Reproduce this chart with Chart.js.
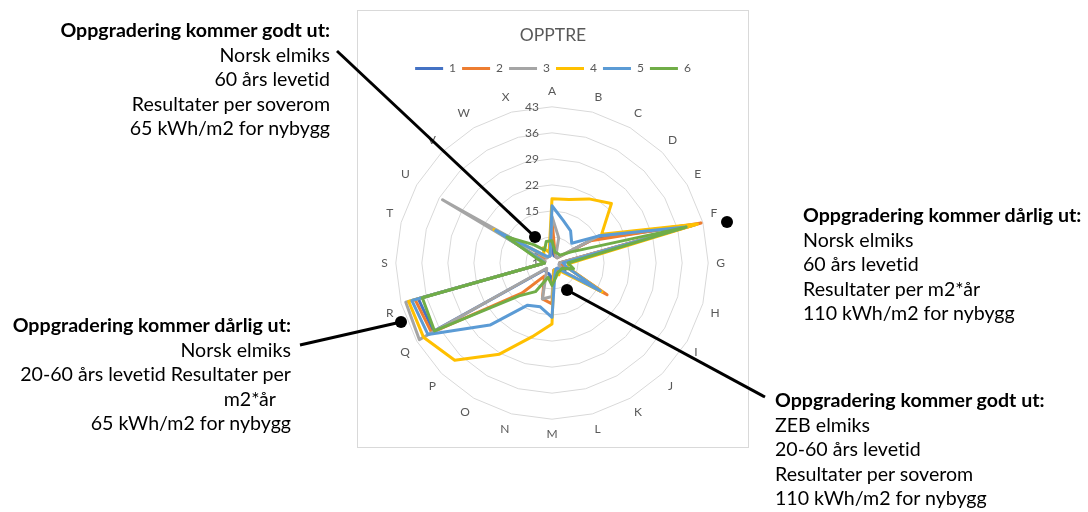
<!DOCTYPE html>
<html>
<head>
<meta charset="utf-8">
<script src="https://cdn.jsdelivr.net/npm/chart.js@4.4.1/dist/chart.umd.min.js"></script>
<style>
  html, body { margin: 0; padding: 0; background: #fff; width: 1088px; height: 512px; overflow: hidden;
    font-family: Lato, "Open Sans", sans-serif; }
  #box { position: absolute; left: 357px; top: 10px; width: 390px; height: 436px; border: 1px solid #D9D9D9; }
  #box canvas { display: block; }
  .note { position: absolute; font-size: 19.6px; line-height: 24.5px; color: #000; white-space: nowrap;
    font-variant-ligatures: none; }
  .note .h { font-weight: 700; }
  #callouts { position: absolute; left: 0; top: 0; width: 1088px; height: 512px; pointer-events: none; }
</style>
</head>
<body>
<div id="box"><canvas id="radar" width="390" height="436"></canvas></div>

<svg id="callouts" viewBox="0 0 1088 512">
  <line x1="337" y1="51" x2="535" y2="237" stroke="#000" stroke-width="3"/>
  <circle cx="535" cy="237" r="6" fill="#000"/>
  <circle cx="727" cy="222" r="6" fill="#000"/>
  <line x1="300" y1="345" x2="401" y2="322" stroke="#000" stroke-width="3"/>
  <circle cx="401" cy="322" r="6" fill="#000"/>
  <line x1="567" y1="290" x2="765" y2="397" stroke="#000" stroke-width="3"/>
  <circle cx="567" cy="290" r="6" fill="#000"/>
</svg>

<div class="note" style="right:758px; top:18px; text-align:right;">
  <div class="h">Oppgradering kommer godt ut:</div>
  <div>Norsk elmiks</div>
  <div>60 års levetid</div>
  <div>Resultater per soverom</div>
  <div>65 kWh/m2 for nybygg</div>
</div>

<div class="note" style="left:803px; top:203px;">
  <div class="h">Oppgradering kommer dårlig ut:</div>
  <div>Norsk elmiks</div>
  <div>60 års levetid</div>
  <div>Resultater per m2*år</div>
  <div>110 kWh/m2 for nybygg</div>
</div>

<div class="note" style="right:797px; top:313px; text-align:right;">
  <div class="h">Oppgradering kommer dårlig ut:</div>
  <div>Norsk elmiks</div>
  <div>20-60 års levetid Resultater per</div>
  <div style="padding-right:15px;">m2*år</div>
  <div>65 kWh/m2 for nybygg</div>
</div>

<div class="note" style="left:775px; top:388px;">
  <div class="h">Oppgradering kommer godt ut:</div>
  <div>ZEB elmiks</div>
  <div>20-60 års levetid</div>
  <div>Resultater per soverom</div>
  <div>110 kWh/m2 for nybygg</div>
</div>

<script>
// Radar categories A..X
const categories = ['A','B','C','D','E','F','G','H','I','J','K','L',
                    'M','N','O','P','Q','R','S','T','U','V','W','X'];

// Ring values shown along the vertical axis
const ringTicks = [1, 8, 15, 22, 29, 36, 43];

// Series values, one per category A..X
const series1 = [5, 3, 3, 3, 14, 40, 3, 3, 5, 3, 3, 3, 6, 4, 4, 3.4, 37.8, 38.2, 3, 3, 6, 3, 3, 3];
const series2 = [12.5, 4, 3, 3, 13, 42.5, 3, 5, 18.1, 3, 4.5, 3, 12, 11, 5, 12.5, 38.4, 39.1, 3, 3, 5, 3, 3, 3];
const series3 = [13.5, 8, 3, 3, 15.7, 41, 3, 3, 4, 3, 3, 3, 10, 11, 4, 3, 42.2, 41.7, 3, 3, 35, 3, 3, 3];
const series4 = [18.3, 18.7, 20.9, 23.6, 16.4, 41.5, 6, 5, 16.5, 4, 4.7, 3, 17.4, 21.5, 29.3, 38, 40.9, 40.9, 3, 4, 19, 4, 5.7, 4];
const series5 = [16.4, 12.8, 11, 8.5, 15.6, 38.3, 4, 5, 16, 3, 3, 4, 15.6, 13.2, 14.1, 24.6, 39.5, 40, 3, 4, 18.5, 4, 3, 3];
const series6 = [7, 4, 4, 4, 7, 38.3, 5.3, 7, 4, 4, 4, 5, 7, 5, 9.9, 13.5, 37.5, 37.1, 3, 5, 15, 8, 5, 7];

const seriesNames = ['1', '2', '3', '4', '5', '6'];
const seriesValues = [series1, series2, series3, series4, series5, series6];
const seriesColors = ['#4472C4', '#ED7D31', '#A5A5A5', '#FFC000', '#5B9BD5', '#70AD47'];

const FONT = 'Lato, "Open Sans", sans-serif';
const TEXT_GREY = '#595959';

// Ring value labels, drawn just left of the vertical axis beneath the series lines
const ringLabels = {
  id: 'ringLabels',
  beforeDatasetsDraw(chart) {
    const s = chart.scales.r;
    const ctx = chart.ctx;
    ctx.save();
    ctx.font = '12px ' + FONT;
    ctx.fillStyle = TEXT_GREY;
    ctx.textAlign = 'right';
    ctx.textBaseline = 'middle';
    ringTicks.forEach(v => {
      const d = s.getDistanceFromCenterForValue(v);
      ctx.fillText(String(v), s.xCenter - 13, s.yCenter - d);
    });
    ctx.restore();
  }
};

const datasets = seriesValues.map((vals, i) => ({
  label: seriesNames[i],
  data: vals,
  borderColor: seriesColors[i],
  backgroundColor: seriesColors[i],
  borderWidth: 3,
  borderJoinStyle: 'round',
  borderCapStyle: 'round',
  pointRadius: 0,
  pointHoverRadius: 0,
  fill: false,
  tension: 0,
  order: seriesValues.length - i   // later series drawn on top
}));

new Chart(document.getElementById('radar'), {
  type: 'radar',
  data: { labels: categories, datasets },
  options: {
    responsive: false,
    animation: false,
    layout: { padding: { top: 4, bottom: 4.6, left: 0, right: 0 } },
    plugins: {
      title: {
        display: true,
        text: 'OPPTRE',
        color: TEXT_GREY,
        font: { family: FONT, size: 17.5, weight: 'normal' },
        padding: { top: 9.5, bottom: 10.9 }
      },
      legend: {
        display: true,
        position: 'top',
        labels: {
          usePointStyle: true,
          pointStyle: 'line',
          pointStyleWidth: 28,
          color: TEXT_GREY,
          font: { family: FONT, size: 12 },
          padding: 6,
          sort: (a, b) => a.datasetIndex - b.datasetIndex
        }
      },
      tooltip: { enabled: false }
    },
    scales: {
      r: {
        min: ringTicks[0],
        max: ringTicks[ringTicks.length - 1],
        ticks: { stepSize: ringTicks[1] - ringTicks[0], display: false },
        grid: { color: '#D9D9D9', lineWidth: 1, circular: false },
        angleLines: { display: false },
        pointLabels: {
          color: TEXT_GREY,
          font: { family: FONT, size: 12 },
          padding: 8
        }
      }
    }
  },
  plugins: [ringLabels]
});
</script>
</body>
</html>
